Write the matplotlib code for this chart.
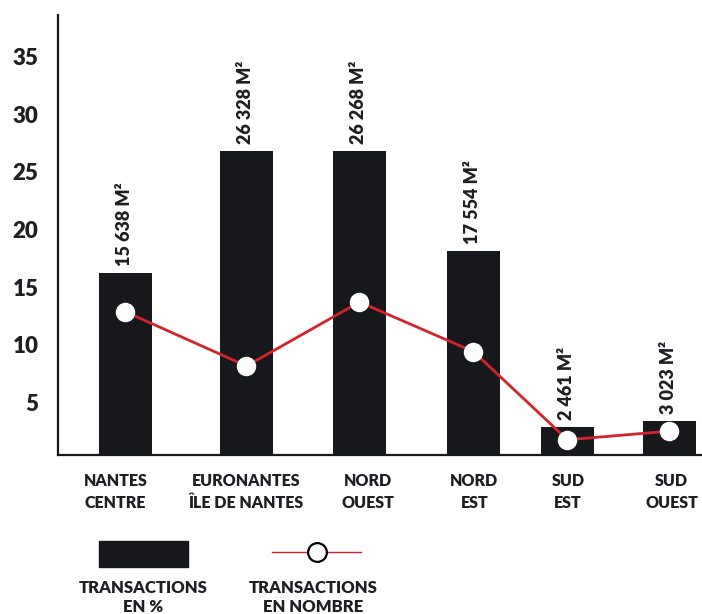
import matplotlib
matplotlib.use("Agg")
import matplotlib.pyplot as plt
from matplotlib.patches import Rectangle
from matplotlib.lines import Line2D

plt.rcParams['font.family'] = ['Lato', 'DejaVu Sans']
WT = 'heavy'
plt.rcParams['font.weight'] = WT

# ---- data ----
categories = ["NANTES\nCENTRE", "EURONANTES\nÎLE DE NANTES", "NORD\nOUEST",
              "NORD\nEST", "SUD\nEST", "SUD\nOUEST"]
transactions_pct = [16.2, 26.8, 26.8, 18.1, 2.9, 3.4]
transactions_nb = [12.85, 8.15, 13.7, 9.4, 1.75, 2.5]
surface_labels = ["15 638 M²", "26 328 M²", "26 268 M²", "17 554 M²", "2 461 M²", "3 023 M²"]
y_ticks = [5, 10, 15, 20, 25, 30, 35]
legend_labels = ["TRANSACTIONS\nEN %", "TRANSACTIONS\nEN NOMBRE"]

# ---- layout (pixel-based horizontal positions) ----
W, H = 702, 614
bar_x = [125.5, 246.5, 359.5, 473.5, 567.5, 669.5]
label_x = [115.5, 246, 368, 474.5, 568, 671.5]
bar_w = 53

DARK = "#16181b"
RED = "#d3232b"
TXT = "#1d1f22"

fig = plt.figure(figsize=(W / 100, H / 100), dpi=100)
ax = fig.add_axes([58 / W, (H - 455) / H, (W - 58) / W, (455 - 15) / H])

ax.bar(bar_x, transactions_pct, width=bar_w, color=DARK, zorder=2)
ax.plot(bar_x, transactions_nb, color=RED, lw=2, marker='o', ms=13,
        mfc='white', mec='white', zorder=3)

for x, h, s in zip(bar_x, transactions_pct, surface_labels):
    ax.annotate(s, (x, h), xytext=(-1, 5), textcoords='offset points',
                rotation=90, ha='center', va='bottom', fontsize=13,
                fontweight=WT, color=TXT)

ax.set_xlim(58, W)
ax.set_ylim(0.43, 38.6)

ax.set_yticks(y_ticks)
ax.set_yticklabels([str(v) for v in y_ticks], fontsize=16, fontweight=WT, color=TXT)
ax.tick_params(axis='y', length=0, pad=14)

ax.set_xticks(label_x)
ax.set_xticklabels(categories, fontsize=11.5, fontweight=WT, color=TXT,
                   linespacing=1.45)
ax.tick_params(axis='x', length=0, pad=13)

for sp in ['top', 'right']:
    ax.spines[sp].set_visible(False)
for sp in ['left', 'bottom']:
    ax.spines[sp].set_color(DARK)
    ax.spines[sp].set_linewidth(1.6)

# ---- legend (drawn manually) ----
def fx(px):
    return px / W

def fy(py):
    return 1 - py / H

fig.patches.append(Rectangle((fx(99), fy(567)), fx(188) - fx(99), fy(541) - fy(567),
                             transform=fig.transFigure, color=DARK))
fig.lines.append(Line2D([fx(272), fx(361)], [fy(552), fy(552)], transform=fig.transFigure,
                        color=RED, lw=1))
fig.lines.append(Line2D([fx(316.7)], [fy(552)], transform=fig.transFigure, marker='o',
                        ms=13.5, mfc='white', mec='black', mew=1.6, lw=0))

fig.text(fx(143), fy(597.5), legend_labels[0], ha='center', va='center', fontsize=12,
         fontweight=WT, color=TXT, linespacing=1.3)
fig.text(fx(313), fy(597.5), legend_labels[1], ha='center', va='center', fontsize=12,
         fontweight=WT, color=TXT, linespacing=1.3)

fig.savefig("out.png", dpi=100)
